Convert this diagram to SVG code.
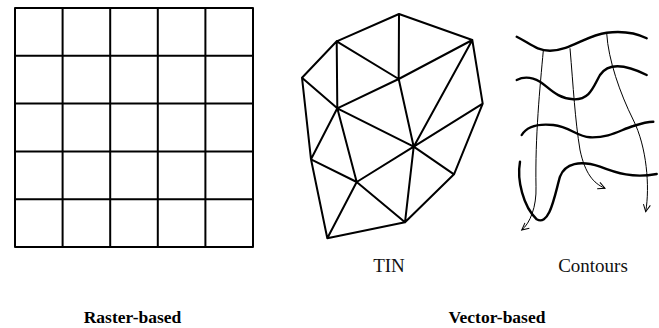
<svg xmlns="http://www.w3.org/2000/svg" width="659" height="328" viewBox="0 0 659 328">
<style>
.ln{fill:none;stroke:#000;stroke-width:2;stroke-linejoin:round;stroke-linecap:round}
.ct{fill:none;stroke:#000;stroke-width:2.4;stroke-linecap:round}
.ar{fill:none;stroke:#000;stroke-width:1;marker-end:url(#ah)}
.lb{font-family:"Liberation Serif",serif;font-size:19px;fill:#111;text-anchor:middle}
.tt{font-family:"Liberation Serif",serif;font-size:17.5px;font-weight:bold;fill:#000;text-anchor:middle}
</style>
<defs>
<marker id="ah" markerWidth="10" markerHeight="10" refX="8" refY="4" orient="auto" markerUnits="userSpaceOnUse">
<path d="M1,0.5 L8,4 L1,7.5" fill="none" stroke="#000" stroke-width="1"/>
</marker>
</defs>
<rect width="659" height="328" fill="#fff"/>
<g id="raster">
<path class="ln" d="M15,8H253V247H15Z M62.6,8V247 M110.2,8V247 M157.8,8V247 M205.4,8V247 M15,55.8H253 M15,103.6H253 M15,151.4H253 M15,199.2H253"/>
</g>
<g id="tin">
<path class="ln" d="M399,14 L472.3,40 L482.7,103.7 L454,174.3 L405,222.3 L327.3,238.3 L311,159.3 L302,77.7 L336.7,41.3 Z
M336.7,41.3 L337.3,108.3 M336.7,41.3 L398.7,79 M399,14 L398.7,79 M472.3,40 L398.7,79 L337.3,108.3
M302,77.7 L337.3,108.3 M472.3,40 L413.7,146.7 M398.7,79 L413.7,146.7 M337.3,108.3 L413.7,146.7
M482.7,103.7 L413.7,146.7 L454,174.3 M337.3,108.3 L311,159.3 M337.3,108.3 L356.7,182
M413.7,146.7 L356.7,182 M413.7,146.7 L405,222.3 M311,159.3 L356.7,182 L405,222.3 M356.7,182 L327.3,238.3"/>
</g>
<g id="contours">
<path class="ct" d="M516.7,36.7 C530,43.3 536.7,50.7 550,50.7 C570,50.7 586.7,35 606.7,32.7 C623.3,30.7 636.7,33.3 646.7,38.3"/>
<path class="ct" d="M516.7,80 C523.3,76.7 530,76 540,81.7 C550,88.3 556.7,98.3 573.3,99.3 C590,100 593.3,86.7 600,75 C606.7,65 620,61.7 646.7,75"/>
<path class="ct" d="M521.7,135 C526.7,126.7 536.7,123.3 553.3,125 C570,126.7 576.7,136.7 590,137.3 C610,138 620,130 633.3,126 C643.3,122.7 650,121.7 653.3,121.7"/>
<path class="ct" d="M520,161.7 C516.7,180 523.3,206.7 536.7,219.3 C550,226.7 555,193.3 560,176.7 C565,163.3 580,160 600,166.7 C616.7,173.3 633.3,178.3 656.7,174"/>
</g>
<g id="connectors">
<path class="ar" d="M543.3,50.7 C540,86.7 535,136.7 536,186.7 C536.7,206.7 530,223.3 521.7,230"/>
<path class="ar" d="M570,48.3 C573.3,86.7 575,120 580,150 C585,173.3 593.3,183.3 605,188.3"/>
<path class="ar" d="M606.7,33.3 C608.3,60 620,93.3 633.3,120 C646.7,146.7 650,186.7 645.7,211.7"/>
</g>
<g id="labels">
<text class="lb" x="389" y="272">TIN</text>
<text class="lb" x="593" y="272">Contours</text>
<text class="tt" x="132.5" y="323">Raster-based</text>
<text class="tt" x="497" y="323">Vector-based</text>
</g>
</svg>
